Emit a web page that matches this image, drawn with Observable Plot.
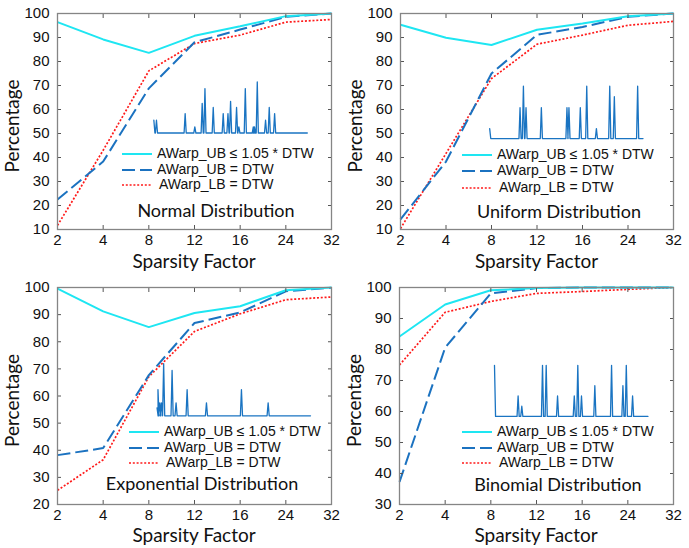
<!DOCTYPE html>
<html><head><meta charset="utf-8">
<script src="https://cdn.jsdelivr.net/npm/d3@7"></script>
<script src="https://cdn.jsdelivr.net/npm/@observablehq/plot@0.6"></script>
<style>
body{margin:0;background:#fff}
#wrap{position:relative;width:689px;height:548px;overflow:hidden;background:#fff}
.panel{position:absolute}
.panel svg{overflow:visible}
</style>
</head><body><div id="wrap"></div>
<script>
const factors = ["2","4","8","12","16","24","32"];
const seriesNames = ["AWarp_UB \u2264 1.05 * DTW", "AWarp_UB = DTW", "AWarp_LB = DTW"];
const distNames = ["Normal Distribution", "Uniform Distribution", "Exponential Distribution", "Binomial Distribution"];

// Normal
const normalApprox = [96.4, 89.2, 83.6, 90.7, 94.7, 98.9, 100];
const normalUB     = [22.5, 38.3, 68.8, 88.0, 93.3, 98.6, 100];
const normalLB     = [11.7, 43.0, 76.1, 87.5, 91.0, 96.4, 97.5];
// Uniform
const uniformApprox = [95.3, 89.9, 86.9, 93.2, 95.8, 98.9, 100];
const uniformUB     = [14.2, 38.3, 75.0, 91.1, 94.4, 98.6, 100];
const uniformLB     = [10.4, 41.7, 72.9, 87.2, 91.0, 95.1, 96.7];
// Exponential
const expApprox = [99.6, 91.2, 85.4, 90.6, 93.1, 99.0, 100];
const expUB     = [38.2, 40.8, 67.7, 86.9, 90.8, 98.6, 99.9];
const expLB     = [25.2, 36.5, 67.1, 83.8, 90.3, 95.5, 96.5];
// Binomial
const binApprox = [84.2, 94.5, 99.1, 99.8, 100, 100, 100];
const binUB     = [37.3, 80.6, 98.1, 99.8, 100, 100, 100];
const binLB     = [75.0, 92.0, 95.5, 98.1, 98.7, 99.4, 100];

// Inset sparse signals: [position 0-100, relative amplitude 0-1]
const normalSpikes = [[0,0.25],[1.7,0.25],[20.4,0.38],[26.7,0.12],[31.5,0.58],[33.3,0.87],[38.7,0.5],[45.2,0.38],[48.3,0.38],[50,0.62],[53.9,0.5],[55.4,0.12],[59.6,0.87],[64.8,0.12],[65.6,0.12],[67.4,1.0],[72.8,0.25],[75.2,0.5],[78.7,0.38]];
const uniformSpikes = [[0,0.19],[19.8,0.59],[22,1.0],[23.7,0.59],[33.7,0.59],[50.4,0.59],[51.7,0.59],[59.1,0.59],[63.3,1.0],[69.6,0.19],[78.3,1.0],[81.3,0.8],[96.5,1.0]];
const expSpikes = [[0,0.15],[0.6,0.5],[1.8,0.25],[2.9,0.25],[4.3,1.0],[9.8,0.87],[12.4,0.25],[19.6,0.5],[32.2,0.25],[55,0.5],[72.4,0.25]];
const binSpikes = [[0,1.0],[15.4,0.4],[17.8,0.2],[31.3,1.0],[33.7,1.0],[41.1,0.4],[52,0.4],[54.3,1.0],[56.7,0.4],[65.4,0.6],[76.3,1.0],[83.7,0.6],[85.9,1.0],[90,0.4]];

const colors = ["#1ee6f2", "#1b72c0", "#ff1a1a"];
const insetColor = "#1a74c2";

const panels = [
  {left:0,   top:0,   mL:57, mR:14, mT:13, mB:45, ymin:10, series:[normalApprox, normalUB, normalLB], spikes:normalSpikes, inset:{x0:2.11,x1:5.47,base:50.2,top:71.5}, leg:{x:122, y:[154,170,185]}, dist:{x:216,y:212}},
  {left:343, top:0,   mL:57, mR:15, mT:13, mB:45, ymin:10, series:[uniformApprox, uniformUB, uniformLB], spikes:uniformSpikes, inset:{x0:1.96,x1:5.33,base:47.9,top:69.7}, leg:{x:119, y:[155,171,188]}, dist:{x:216,y:213}},
  {left:0,   top:274, mL:57, mR:14, mT:13, mB:44, ymin:20, series:[expApprox, expUB, expLB], spikes:expSpikes, inset:{x0:2.18,x1:5.54,base:52.7,top:71.9}, leg:{x:129, y:[158,174,189]}, dist:{x:202,y:211}},
  {left:342, top:274, mL:57, mR:14, mT:13, mB:44, ymin:30, series:[binApprox, binUB, binLB], spikes:binSpikes, inset:{x0:2.08,x1:5.44,base:58.4,top:74.9}, leg:{x:120, y:[158,174,189]}, dist:{x:216,y:212}}
];

function insetPoints(spikes, L) {
  const w = 0.7;
  const pts = [];
  spikes.forEach(([t, h]) => {
    if (t - w > 0) pts.push([t - w, 0]);
    pts.push([t, h]);
    pts.push([Math.min(100, t + w), 0]);
  });
  pts.push([100, 0]);
  return pts.map(([t, h]) => ({x: L.x0 + (L.x1 - L.x0) * t / 100, y: L.base + (L.top - L.base) * h}));
}

const dashes = [null, "13,5", "2,1.8"];
const widths = [2, 2, 1.7];
const idx = d3.range(factors.length);

panels.forEach((p, pi) => {
  const yt = d3.range(p.ymin, 101, 10);
  const rows = [];
  p.series.forEach((vals, si) => vals.forEach((v, i) => rows.push({s: si, i, v})));
  const lineMarks = [0, 1, 2].map(si => Plot.line(rows.filter(r => r.s === si), {
    x: "i", y: "v", stroke: colors[si], strokeWidth: widths[si],
    strokeDasharray: dashes[si], strokeLinecap: "butt", strokeLinejoin: "miter"
  }));
  const chart = Plot.plot({
    width: 345, height: 274,
    marginLeft: p.mL, marginRight: p.mR, marginTop: p.mT, marginBottom: p.mB,
    style: {fontFamily: "'Liberation Sans', Arial, sans-serif", fontSize: "15px", color: "#111", background: "transparent", overflow: "visible"},
    x: {domain: [0, factors.length - 1], axis: null},
    y: {domain: [p.ymin, 100], axis: null},
    marks: [
      Plot.line(insetPoints(p.spikes, p.inset), {x: "x", y: "y", stroke: insetColor, strokeWidth: 1.3}),
      ...[2, 1, 0].map(si => lineMarks[si]),
      Plot.axisY({ticks: yt, tickSize: 0, tickPadding: 8, fontSize: 15, label: null, fill: "#111"}),
      Plot.axisY({ticks: yt, anchor: "left", tickSize: -4, tickFormat: () => "", label: null, stroke: "#555"}),
      Plot.axisY({ticks: yt, anchor: "right", tickSize: -4, tickFormat: () => "", label: null, stroke: "#555"}),
      Plot.axisX({ticks: idx, tickSize: 0, tickPadding: 5, tickFormat: i => factors[i], fontSize: 15, label: null, fill: "#111"}),
      Plot.axisX({ticks: idx, anchor: "bottom", tickSize: -4, tickFormat: () => "", label: null, stroke: "#555"}),
      Plot.axisX({ticks: idx, anchor: "top", tickSize: -4, tickFormat: () => "", label: null, stroke: "#555"}),
      Plot.frame({stroke: "#858585", strokeWidth: 1.3})
    ]
  });
  const svg = d3.select(chart);
  const cx = p.mL + (345 - p.mL - p.mR) / 2;
  const cy = p.mT + (274 - p.mT - p.mB) / 2;
  const lf = "Lato, 'Open Sans', sans-serif";
  svg.append("text").attr("x", cx).attr("y", 263).attr("text-anchor", "middle").attr("dominant-baseline", "middle")
    .attr("font-family", lf).attr("font-size", 19).attr("fill", "#111").text("Sparsity Factor");
  svg.append("text").attr("transform", `translate(14,${cy + 5}) rotate(-90)`).attr("text-anchor", "middle").attr("dominant-baseline", "middle")
    .attr("font-family", lf).attr("font-size", 19).attr("fill", "#111").text("Percentage");
  svg.append("text").attr("x", p.dist.x).attr("y", p.dist.y).attr("text-anchor", "middle").attr("dominant-baseline", "middle")
    .attr("font-family", lf).attr("font-size", 18).attr("fill", "#111").text(distNames[pi]);
  seriesNames.forEach((name, si) => {
    const y = p.leg.y[si];
    svg.append("line").attr("x1", p.leg.x).attr("x2", p.leg.x + 30).attr("y1", y).attr("y2", y)
      .attr("stroke", colors[si]).attr("stroke-width", widths[si]).attr("stroke-dasharray", dashes[si]);
    svg.append("text").attr("x", p.leg.x + 35 + (si === 2 ? 2 : 0)).attr("y", y).attr("text-anchor", "start").attr("dominant-baseline", "middle")
      .attr("font-family", "'Liberation Sans', Arial, sans-serif").attr("font-size", 14).attr("fill", "#111").text(name);
  });
  const div = document.createElement("div");
  div.className = "panel";
  div.style.left = p.left + "px";
  div.style.top = p.top + "px";
  div.appendChild(chart);
  document.getElementById("wrap").appendChild(div);
});
</script>
</body></html>
